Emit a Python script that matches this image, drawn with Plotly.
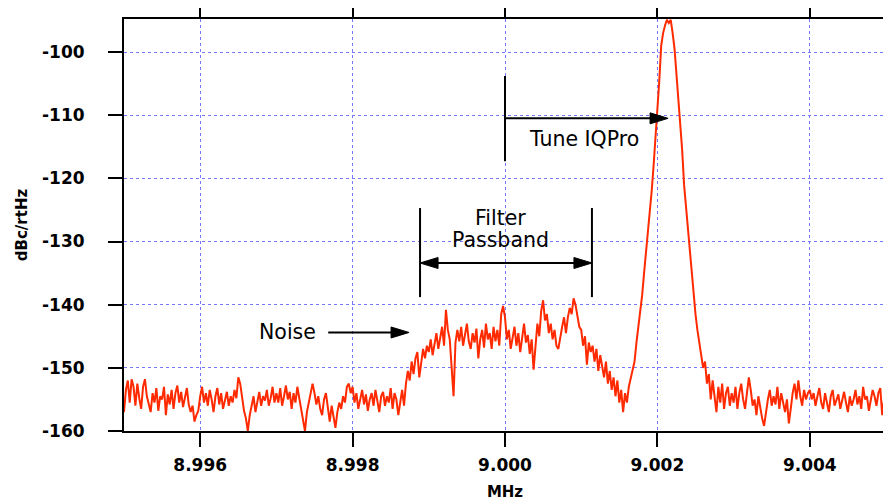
import numpy as np
import plotly.graph_objects as go

# ---------------- data ----------------
FREQ_START = 8.995   # MHz
FREQ_STEP = 0.000025  # MHz

level_dbc = [
    # 8.995 - 8.996
    -157.0, -153.5, -152.0, -155.5, -151.8, -153.0, -156.0, -152.5, -154.8, -156.5,
    -153.0, -151.8, -154.5, -155.8, -157.0, -154.0, -155.5, -153.2, -156.8, -154.5,
    -155.0, -153.0, -157.5, -154.2, -155.8, -153.5, -156.5, -154.0, -152.8, -155.5,
    -153.8, -156.2, -154.5, -153.2, -155.8, -157.0, -156.0, -158.5, -157.5, -156.8,
    # 8.996 - 8.997
    -154.5, -153.0, -155.5, -154.0, -156.0, -153.5, -155.0, -157.0, -154.5, -153.2,
    -155.8, -154.0, -156.5, -155.0, -153.8, -156.0, -154.5, -155.5, -153.5, -154.8,
    -151.5, -152.5, -155.0, -156.8, -158.0, -160.0, -157.5, -156.0, -154.5, -157.0,
    -155.5, -153.8, -156.0, -154.5, -155.2, -153.5, -156.0, -154.8, -153.0, -155.5,
    # 8.997 - 8.998
    -154.0, -155.5, -153.2, -156.0, -154.5, -152.8, -155.0, -153.8, -156.5, -154.0,
    -155.5, -153.0, -154.8, -156.5, -158.0, -160.0, -157.0, -155.5, -153.5, -152.5,
    -154.0, -155.8, -154.5, -156.5, -157.5, -155.0, -154.0, -156.0, -158.5, -156.0,
    -157.8, -159.5, -157.0, -155.5, -156.5, -154.5, -155.5, -153.0, -152.5, -154.0,
    # 8.998 - 8.999
    -153.0, -155.5, -154.0, -156.5, -155.0, -153.5, -155.8, -154.2, -156.8, -155.0,
    -154.0, -156.0, -153.5, -155.5, -157.0, -154.5, -153.8, -156.0, -154.5, -155.5,
    -153.2, -156.5, -154.0, -155.0, -157.5, -155.5, -153.5, -156.0, -152.5, -150.5,
    -152.0, -149.0, -151.0, -148.5, -147.5, -151.5, -149.5, -147.0, -148.5, -146.5,
    # 8.999 - 9.000
    -147.5, -145.5, -148.0, -146.0, -144.5, -147.0, -145.0, -143.5, -146.5, -140.8,
    -144.0, -145.5, -150.0, -154.5, -146.0, -144.0, -145.8, -143.5, -146.5, -145.0,
    -143.0, -145.8, -147.0, -144.5, -146.0, -143.8, -148.5, -145.5, -144.0, -146.8,
    -143.0, -145.5, -144.5, -147.0, -143.5, -145.8, -144.0, -146.5, -141.5, -140.2,
    # 9.000 - 9.001
    -142.0, -145.5, -144.0, -147.0, -145.0, -143.5, -146.5, -144.5, -147.5, -145.5,
    -143.0, -146.0, -144.8, -147.8, -145.5, -150.3, -146.5, -143.0, -145.0, -141.0,
    -139.3, -142.5, -141.5, -144.5, -143.0, -145.5, -144.0, -146.5, -147.0, -145.0,
    -143.5, -142.0, -144.5, -142.0, -140.5, -141.5, -139.0, -140.0, -141.8, -143.5,
    # 9.001 - 9.002
    -144.0, -146.5, -145.0, -149.5, -146.0, -147.5, -146.5, -149.0, -147.0, -150.5,
    -148.0, -149.5, -151.5, -149.0, -152.5, -150.5, -153.5, -151.5, -154.5, -152.0,
    -155.5, -153.5, -157.0, -154.0, -155.5, -153.0, -151.5, -150.0, -149.0, -146.0,
    -143.5, -141.0, -138.5, -135.0, -132.0, -129.0, -125.5, -122.0, -118.0, -113.5,
    # 9.002 - 9.003
    -110.0, -104.5, -99.0, -97.0, -95.8, -94.9, -95.4, -94.9, -97.0, -99.5,
    -103.5, -107.5, -111.0, -115.5, -121.0, -124.5, -128.5, -132.0, -135.5, -138.5,
    -141.5, -144.0, -146.0, -148.0, -150.0, -149.0, -152.5, -151.0, -155.0, -152.0,
    -154.5, -157.0, -153.0, -155.5, -152.5, -156.5, -154.0, -153.0, -156.0, -154.0,
    # 9.003 - 9.004
    -155.5, -153.0, -156.5, -154.0, -152.5, -155.0, -156.5, -154.0, -151.5, -153.5,
    -156.0, -155.0, -157.5, -154.5, -156.5, -158.0, -159.2, -157.0, -155.0, -153.5,
    -156.0, -154.5, -155.8, -153.0, -156.5, -154.0, -155.5, -157.0, -155.0, -158.8,
    -156.5, -154.0, -152.5, -155.0, -152.0, -154.5, -156.0, -153.5, -155.0, -154.0,
    # 9.004 - 9.005
    -153.5, -155.0, -154.0, -156.0, -154.5, -153.2, -155.5, -156.5, -154.0, -155.8,
    -157.0, -154.5, -153.5, -156.0, -155.0, -154.2, -156.5, -155.0, -153.8, -155.5,
    -157.0, -154.5, -156.0, -155.0, -153.5, -155.8, -154.5, -156.5, -153.0, -155.0,
    -154.5, -156.8, -155.0, -153.5, -154.5, -156.0, -154.0, -153.2, -157.5, -155.0,
    -154.0,
]

freq_mhz = FREQ_START + FREQ_STEP * np.arange(len(level_dbc))

x_tickvals = [8.996, 8.998, 9.000, 9.002, 9.004]
x_ticktext = ["8.996", "8.998", "9.000", "9.002", "9.004"]
y_tickvals = [-160, -150, -140, -130, -120, -110, -100]
y_ticktext = ["-160", "-150", "-140", "-130", "-120", "-110", "-100"]

# annotation geometry (data coordinates)
tune_x0, tune_x1, tune_y = 9.000, 9.00214, -110.5
tune_bar = (-103.8, -117.3)
filter_x0, filter_x1, filter_y = 8.998885, 9.001141, -133.4
filter_bar = (-124.7, -138.8)
noise_x0, noise_x1, noise_y = 8.99768, 8.998741, -144.4

# ---------------- figure ----------------
fig = go.Figure()
fig.add_trace(go.Scatter(x=freq_mhz, y=level_dbc, mode="lines",
                         line=dict(color="#ff2a00", width=2), showlegend=False,
                         hoverinfo="skip"))

BLACK = "#000000"
shapes = []
def seg(x0, y0, x1, y1):
    shapes.append(dict(type="line", xref="x", yref="y", x0=x0, y0=y0, x1=x1, y1=y1,
                       line=dict(color=BLACK, width=2)))

def head(xtip, ytip, direction):
    L, W = 18, 5.5
    d = 1 if direction > 0 else -1
    path = f"M0,0 L{-d*L},{W} L{-d*L},{-W} Z"
    shapes.append(dict(type="path", xref="x", yref="y", xsizemode="pixel",
                       ysizemode="pixel", xanchor=xtip, yanchor=ytip, path=path,
                       fillcolor=BLACK, line=dict(color=BLACK, width=1)))

# Tune IQPro
seg(tune_x0, tune_bar[0], tune_x0, tune_bar[1])
seg(tune_x0, tune_y, tune_x1 - 0.0001, tune_y)
head(tune_x1, tune_y, +1)
# Filter passband
seg(filter_x0, filter_bar[0], filter_x0, filter_bar[1])
seg(filter_x1, filter_bar[0], filter_x1, filter_bar[1])
seg(filter_x0 + 0.0001, filter_y, filter_x1 - 0.0001, filter_y)
head(filter_x0, filter_y, -1)
head(filter_x1, filter_y, +1)
# Noise
seg(noise_x0, noise_y, noise_x1 - 0.0001, noise_y)
head(noise_x1, noise_y, +1)

TXT = dict(family="DejaVu Sans", size=20.5, color=BLACK)
annotations = [
    dict(x=9.001036, y=-113.8, text="Tune IQPro"),
    dict(x=8.999935, y=-126.3, text="Filter"),
    dict(x=8.999935, y=-129.8, text="Passband"),
    dict(x=8.997141, y=-144.4, text="Noise"),
]
for a in annotations:
    a.update(xref="x", yref="y", showarrow=False, font=TXT,
             xanchor="center", yanchor="middle")

GRID = "rgb(120,120,255)"
AXFONT = dict(family="DejaVu Sans", size=17, color=BLACK, weight="bold")
common = dict(showline=True, linecolor=BLACK, linewidth=2, mirror="allticks",
              ticks="outside", ticklen=14, tickwidth=2, tickcolor=BLACK,
              showgrid=True, gridcolor=GRID, gridwidth=1, griddash="dot",
              zeroline=False, tickfont=AXFONT, automargin=False)

# the page body adds an 8px offset; the figure is sized to compensate
fig.update_layout(
    width=883, height=493,
    margin=dict(l=116, r=5, t=11, b=70),
    paper_bgcolor="white", plot_bgcolor="white",
    shapes=shapes, annotations=annotations,
    xaxis=dict(range=[8.995, 9.005], tickvals=x_tickvals, ticktext=x_ticktext,
               ticklabelstandoff=4,
               title=dict(text="MHz", standoff=14,
                          font=dict(family="DejaVu Sans", size=15, color=BLACK, weight="bold")),
               **common),
    yaxis=dict(range=[-160, -94.77], tickvals=y_tickvals, ticktext=y_ticktext,
               ticklabelstandoff=20,
               title=dict(text="dBc/rtHz", standoff=11,
                          font=dict(family="DejaVu Sans", size=15, color=BLACK, weight="bold")),
               **common),
)

fig.write_html("out.html")
